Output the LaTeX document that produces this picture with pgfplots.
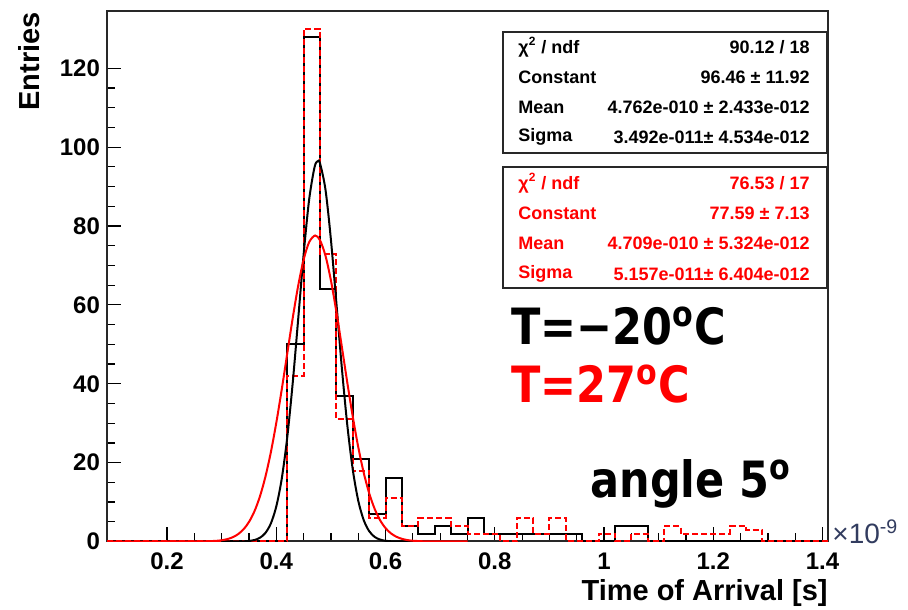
\documentclass[border=0pt]{standalone}
\usepackage{fontspec}
\setmainfont{Liberation Sans}
\newfontfamily\bigf{DejaVu Sans}[FakeStretch=0.86]
\usepackage{pgfplots}
\pgfplotsset{compat=1.18}

\definecolor{rootred}{RGB}{255,0,0}
\definecolor{frame}{RGB}{40,40,40}
\definecolor{expo}{RGB}{50,60,95}

\newcommand{\tickf}{\fontsize{12}{12}\selectfont\bfseries}
\newcommand{\titlef}{\fontsize{14.5}{14.5}\selectfont\bfseries}
\newcommand{\statf}{\fontsize{9}{9}\selectfont\bfseries}
\newcommand{\hugef}{\bigf\bfseries\fontsize{25}{25}\selectfont}

\begin{document}
\begin{tikzpicture}
% page = 908 x 609 px, 1 px = 0.5pt, axis box from (107,11.5) to (828,541.5)
\useasboundingbox (-53.5pt,-33.75pt) rectangle (400.5pt,270.75pt);
\begin{axis}[
  scale only axis, width=360.5pt, height=265pt,
  xmin=0.09, xmax=1.41, ymin=0, ymax=134.4,
  axis line style={draw=frame, line width=1pt},
  tick pos=left, tick align=inside,
  xtick={0.2,0.4,0.6,0.8,1,1.2,1.4}, minor x tick num=3,
  ytick={0,20,40,60,80,100,120}, minor y tick num=3,
  major tick length=7pt, minor tick length=4pt,
  tick style={black, line width=0.6pt},
  ticklabel style={font=\tickf},
  xticklabel style={yshift=-2pt},
  /pgf/number format/assume math mode=true,
  scaled x ticks=false,
  clip=true,
]
% T = -20 C, black histogram (bin width 0.03)
\addplot[const plot, black, line width=1pt] coordinates {
  (0.09,0) (0.42,50) (0.45,128) (0.48,64) (0.51,37) (0.54,21) (0.57,7)
  (0.60,16) (0.63,4) (0.66,2) (0.69,4) (0.72,2) (0.75,6) (0.78,2)
  (0.81,2) (0.84,2) (0.87,2) (0.90,2) (0.93,2) (0.96,0) (1.02,4)
  (1.05,4) (1.08,0) (1.41,0)
};
% T = 27 C, red dashed histogram
\addplot[const plot, rootred, line width=1pt, dash pattern=on 3pt off 1.5pt] coordinates {
  (0.09,0) (0.42,42) (0.45,130) (0.48,73) (0.51,31) (0.54,18) (0.57,6)
  (0.60,11) (0.63,4) (0.66,6) (0.69,6) (0.72,4) (0.75,2) (0.78,2)
  (0.81,0) (0.84,6) (0.87,2) (0.90,6) (0.93,0) (0.99,2) (1.02,0)
  (1.05,2) (1.08,0) (1.11,4) (1.14,2) (1.17,2) (1.20,2) (1.23,4)
  (1.26,3) (1.29,0) (1.41,0)
};
% gaussian fits
\addplot[black, line width=1pt, smooth] coordinates {
  (0.30,0) (0.33,0.02) (0.34,0.05) (0.35,0.14) (0.36,0.38) (0.37,0.95)
  (0.38,2.17) (0.39,4.58) (0.40,8.92) (0.41,15.99) (0.42,26.42)
  (0.43,40.21) (0.44,56.36) (0.45,72.80) (0.46,86.62) (0.47,94.95)
  (0.476,96.46) (0.48,95.89) (0.49,89.22) (0.50,76.46) (0.51,60.38)
  (0.52,43.93) (0.53,29.44) (0.54,18.18) (0.55,10.34) (0.56,5.42)
  (0.57,2.62) (0.58,1.16) (0.59,0.48) (0.60,0.18) (0.61,0.06)
  (0.62,0.02) (0.65,0)
};
\addplot[rootred, line width=1pt, smooth] coordinates {
  (0.09,0) (0.20,0) (0.25,0.01) (0.27,0.04) (0.29,0.17) (0.30,0.32)
  (0.31,0.60) (0.32,1.07) (0.33,1.86) (0.34,3.10) (0.35,4.97)
  (0.36,7.68) (0.37,11.44) (0.38,16.41) (0.39,22.66) (0.40,30.15)
  (0.41,38.63) (0.42,47.67) (0.43,56.65) (0.44,64.84) (0.45,71.48)
  (0.46,75.88) (0.471,77.59) (0.48,76.39) (0.49,72.45) (0.50,66.17)
  (0.51,58.21) (0.52,49.32) (0.53,40.24) (0.54,31.62) (0.55,23.93)
  (0.56,17.44) (0.57,12.24) (0.58,8.28) (0.59,5.39) (0.60,3.38)
  (0.61,2.04) (0.62,1.19) (0.63,0.67) (0.64,0.36) (0.65,0.19)
  (0.67,0.05) (0.69,0.01) (0.75,0)
};
\end{axis}

% annotations placed in reference pixel coordinates
\begin{scope}[x=0.5pt, y=-0.5pt, shift={(-53.5pt,270.75pt)}]
  \node[rotate=90, anchor=base east, font=\titlef, inner sep=0pt] at (40,12) {Entries};
  \node[anchor=base east, font=\titlef, inner sep=0pt] at (828,600) {Time of Arrival [s]};
  \node[anchor=base west, font=\fontsize{14}{14}\selectfont, text=expo, inner sep=0pt] at (832,544) {×10\textsuperscript{-9}};

  \draw[frame, line width=1pt, fill=white] (503,32) rectangle (827,153);
  \node[anchor=west, font=\statf, inner sep=0pt] at (518,47) {χ\textsuperscript{2} / ndf};
  \node[anchor=east, font=\statf, inner sep=0pt] at (810,47) {90.12 / 18};
  \node[anchor=west, font=\statf, inner sep=0pt] at (518,77) {Constant};
  \node[anchor=east, font=\statf, inner sep=0pt] at (810,77) {96.46 ± 11.92};
  \node[anchor=west, font=\statf, inner sep=0pt] at (518,107) {Mean};
  \node[anchor=east, font=\statf, inner sep=0pt] at (810,107) {4.762e-010 ± 2.433e-012};
  \node[anchor=west, font=\statf, inner sep=0pt] at (518,137) {Sigma};
  \node[anchor=east, font=\statf, inner sep=0pt] at (810,137) {3.492e-011± 4.534e-012};

  \draw[frame, line width=1pt, fill=white] (503,167) rectangle (827,288);
  \begin{scope}[every node/.style={text=rootred, font=\statf, inner sep=0pt}]
  \node[anchor=west] at (518,183) {χ\textsuperscript{2} / ndf};
  \node[anchor=east] at (810,183) {76.53 / 17};
  \node[anchor=west] at (518,213) {Constant};
  \node[anchor=east] at (810,213) {77.59 ± 7.13};
  \node[anchor=west] at (518,243) {Mean};
  \node[anchor=east] at (810,243) {4.709e-010 ± 5.324e-012};
  \node[anchor=west] at (518,274) {Sigma};
  \node[anchor=east] at (810,274) {5.157e-011± 6.404e-012};
  \end{scope}

  \node[anchor=base west, font=\hugef, inner sep=0pt] at (511,345) {T=−20\textsuperscript{o}C};
  \node[anchor=base west, font=\hugef, text=rootred, inner sep=0pt] at (511,403) {T=27\textsuperscript{o}C};
  \node[anchor=base west, font=\hugef, inner sep=0pt] at (590,498) {angle 5\textsuperscript{o}};
\end{scope}
\end{tikzpicture}
\end{document}
